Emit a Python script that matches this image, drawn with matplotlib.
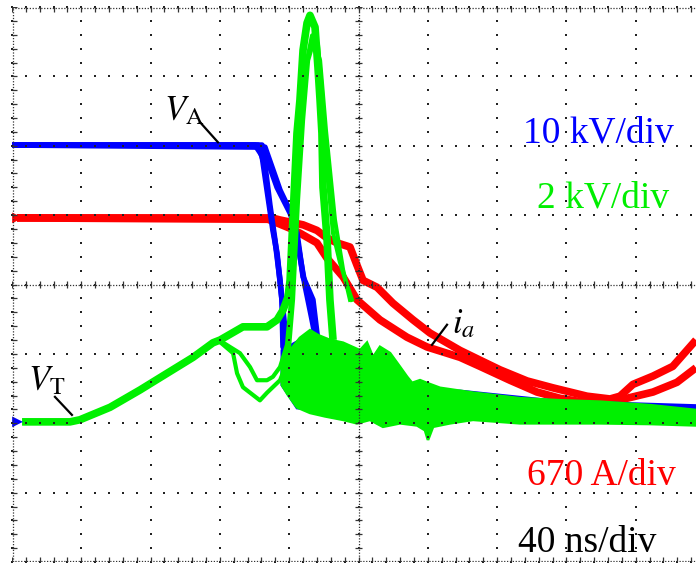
import numpy as np
import matplotlib
matplotlib.use('Agg')
import matplotlib.pyplot as plt

plt.rcParams['mathtext.fontset'] = 'stix'

# time in ns (40 ns/div), vertical position in screen divisions (0..8)
# ── V_A (blue), four overlaid shots ──────────────────────────────────────────
VA_T = [
    [0, 140.3, 144.3, 147.2, 150.6, 153.0, 155.8, 156.4, 159.3],
    [0, 142.0, 146.0, 148.9, 151.8, 154.7, 157.6, 160.5],
    [0, 144.3, 153.0, 160.5, 164.5, 168.0, 173.7, 176.0, 177.8],
    [0, 146.0, 154.7, 161.6, 165.1, 169.1, 173.2, 176.6],
]
VA_Y = [
    [6.01, 6.01, 5.86, 5.36, 4.78, 4.45, 3.78, 3.10, 2.98],
    [6.01, 6.01, 5.72, 5.14, 4.64, 4.06, 3.34, 2.98],
    [6.01, 6.01, 5.40, 5.03, 4.74, 4.11, 3.78, 3.30, 3.01],
    [6.01, 5.98, 5.36, 5.00, 4.57, 3.99, 3.49, 3.05],
]
VA_TAIL_T = [176.6, 183.5, 192.2, 212.4, 258.6, 316.3, 394.8]
VA_TAIL_Y = [2.91, 2.62, 2.41, 2.41, 2.44, 2.29, 2.23]
VA_RING_T = [155.8, 166.2, 177.8, 192.2, 192.2, 177.8, 164.5, 155.8]
VA_RING_Y = [3.05, 3.20, 2.98, 2.62, 2.16, 2.19, 2.22, 2.55]

# ── V_T (green) ──────────────────────────────────────────────────────────────
VT_T = [
    [5.8, 33.5, 39.2, 56.6, 73.9, 89.5, 104.5, 116.0, 120.1, 133.3, 147.2,
     153.0, 156.4, 159.3, 160.5, 162.2, 164.5, 166.2, 168.0, 170.3, 172.0,
     174.9, 176.6, 177.8, 178.9, 179.5, 181.8, 183.5, 185.3],
    [116.0, 120.1, 125.8, 131.6, 137.4, 141.4, 147.2, 150.6, 154.7, 158.7,
     161.6, 163.9, 166.2, 169.1, 173.2, 176.6, 178.9, 180.7, 185.3, 189.3,
     193.4, 196.2],
    [120.1, 127.6, 129.9, 133.3, 143.1, 147.2, 154.7, 159.3, 162.2, 165.1,
     168.0, 170.9, 174.3, 177.8, 181.2, 186.4, 191.1, 195.1],
]
VT_Y = [
    [2.02, 2.02, 2.05, 2.23, 2.48, 2.72, 2.95, 3.16, 3.20, 3.39, 3.39,
     3.49, 3.63, 3.82, 4.06, 4.97, 6.18, 6.66, 7.38, 7.77, 7.88,
     7.71, 7.13, 6.66, 6.18, 5.40, 4.68, 3.78, 3.20],
    [3.16, 3.19, 3.10, 3.01, 2.81, 2.62, 2.62, 2.67, 2.81, 3.13,
     3.92, 5.22, 6.22, 7.09, 7.59, 7.45, 6.80, 5.94, 4.74, 4.32,
     3.99, 3.78],
    [3.17, 3.01, 2.72, 2.52, 2.33, 2.44, 2.62, 2.91, 3.78, 5.22,
     6.37, 7.23, 7.52, 7.23, 6.22, 4.93, 4.21, 3.78],
]
# ringing envelope: upper edge left->right, then lower edge right->left
VT_RING_T = [155.8, 160.5, 166.2, 172.0, 176.6, 183.5, 191.1, 200.9, 204.9,
             208.4, 212.4, 218.2, 224.0, 228.0, 230.9, 235.5, 239.5, 247.0,
             266.1, 293.2, 316.3, 339.4, 368.3, 394.8,
             394.8, 368.3, 339.4, 293.2, 266.1, 252.8, 243.0, 240.1, 238.4,
             233.8, 224.0, 214.1, 206.6, 199.1, 191.1, 180.7, 172.0, 164.5,
             159.3, 155.8]
VT_RING_Y = [2.91, 3.05, 3.23, 3.34, 3.27, 3.20, 3.16, 3.05, 3.16,
             2.95, 3.10, 3.01, 2.81, 2.67, 2.58, 2.62, 2.58, 2.51,
             2.44, 2.36, 2.33, 2.31, 2.26, 2.19,
             1.97, 1.99, 2.00, 2.00, 2.05, 2.00, 1.95, 1.76, 1.90,
             1.97, 2.00, 1.95, 2.05, 2.00, 2.05, 2.10, 2.15, 2.23,
             2.41, 2.55]

# ── i_a (red), two groups of shots ───────────────────────────────────────────
IA_T = [
    [2.9, 150.1, 154.7, 168.0, 176.0, 181.8, 187.6, 195.1, 199.1, 202.6,
     210.7, 219.9, 231.5, 241.3, 258.6, 270.1, 281.7, 297.3, 312.3, 322.1,
     331.9, 345.2, 350.9, 358.4, 370.0, 381.4, 394.8],
    [2.9, 147.8, 160.5, 166.2, 176.0, 181.8, 191.1, 199.1, 212.4, 228.0,
     239.5, 258.6, 270.1, 287.4, 303.0, 316.3, 326.1, 341.1, 355.0, 370.0,
     383.8, 394.8],
]
IA_Y = [
    [4.96, 4.96, 4.93, 4.86, 4.78, 4.67, 4.60, 4.54, 4.28, 4.06,
     3.96, 3.73, 3.49, 3.30, 3.05, 2.91, 2.77, 2.61, 2.51, 2.45,
     2.39, 2.35, 2.39, 2.56, 2.68, 2.82, 3.20],
    [4.96, 4.94, 4.81, 4.74, 4.60, 4.38, 4.11, 3.78, 3.49, 3.24,
     3.10, 2.95, 2.82, 2.62, 2.45, 2.36, 2.32, 2.31, 2.36, 2.45,
     2.59, 2.80],
]

# channel ground markers at the left edge
MARK_Y = [4.96, 2.02]
MARK_C = ['red', 'blue']

# trace labels: (text, text x, text y, leader x0, y0, x1, y1)
LABELS = [
    (r'$V_{\mathrm{A}}$', 88.0, 6.37, 108.5, 6.34, 118.9, 6.05),
    (r'$V_{\mathrm{T}}$', 9.0, 2.48, 24.8, 2.38, 34.6, 2.12),
    (r'$i_{a}$', 254.0, 3.30, 242.4, 3.13, 251.1, 3.42),
]
SCALES = [('10 kV/div', 'blue', 523, 142),
          ('2 kV/div', '#00ee00', 537, 208),
          ('670 A/div', 'red', 527, 485),
          ('40 ns/div', 'black', 518, 552)]

BLUE = '#0000ff'
GREEN = '#00f000'
RED = '#ff0000'

W, H = 696, 563
fig = plt.figure(figsize=(W / 100, H / 100), dpi=100)
ax = fig.add_axes([12 / W, 1 / H, 693 / W, 555 / H])
ax.set_xlim(0, 400)
ax.set_ylim(0, 8)
ax.axis('off')

# traces
for t, y in zip(IA_T, IA_Y):
    ax.plot(t, y, color=RED, lw=5.5, solid_joinstyle='round',
            solid_capstyle='butt', zorder=2)
ax.fill(VA_RING_T, VA_RING_Y, color=BLUE, lw=2, zorder=3)
ax.plot(VA_TAIL_T, VA_TAIL_Y, color=BLUE, lw=4.5, zorder=3)
for t, y in zip(VA_T, VA_Y):
    ax.plot(t, y, color=BLUE, lw=4, solid_joinstyle='round', zorder=3)
ax.fill(VT_RING_T, VT_RING_Y, color=GREEN, lw=2, zorder=4)
ax.plot(VT_T[0], VT_Y[0], color=GREEN, lw=5.5, solid_joinstyle='round',
        solid_capstyle='butt', zorder=4)
for t, y in zip(VT_T[1:], VT_Y[1:]):
    ax.plot(t, y, color=GREEN, lw=3, solid_joinstyle='round', zorder=4)

ax.scatter([3.2] * len(MARK_Y), MARK_Y, marker='>', s=60, c=MARK_C,
           lw=0, zorder=5)

# graticule: dotted major lines, dense centre lines/borders with ticks
sub_y = np.arange(0, 8.01, 0.2)
sub_x = np.arange(0, 400.1, 8)
for xd in range(11):
    ax.scatter(np.full(len(sub_y), xd * 40), sub_y, s=1.6, marker='s',
               c='#222222', lw=0, zorder=6, clip_on=False)
for yd in range(9):
    ax.scatter(sub_x, np.full(len(sub_x), yd), s=1.6, marker='s',
               c='#222222', lw=0, zorder=6, clip_on=False)
dense = dict(color='#333333', lw=0.9, ls=(0, (1, 1.3)), zorder=6)
ax.axvline(200, **dense)
ax.axvline(0.4, **dense)
ax.axhline(4, **dense)
ax.axhline(7.99, **dense)
ax.axhline(0.01, **dense)
ax.hlines(sub_y, 198, 202, color='#333333', lw=0.9, zorder=6)
ax.hlines(sub_y, 0, 3, color='#333333', lw=0.9, zorder=6)
ax.vlines(sub_x, 3.95, 4.05, color='#333333', lw=0.9, zorder=6)
ax.vlines(sub_x, 7.93, 8, color='#333333', lw=0.9, zorder=6)
ax.vlines(sub_x, 0, 0.07, color='#333333', lw=0.9, zorder=6)

# labels with leader lines
for txt, tx, ty, x0, y0, x1, y1 in LABELS:
    ax.text(tx, ty, txt, fontsize=25, color='black', va='baseline',
            ha='left', zorder=7)
    ax.plot([x0, x1], [y0, y1], color='black', lw=1.6, zorder=7)

for txt, col, px, py in SCALES:
    fig.text(px / W, 1 - py / H, txt, color=col, fontsize=27,
             family='Liberation Serif', ha='left', va='baseline')

fig.savefig('out.png', dpi=100)
